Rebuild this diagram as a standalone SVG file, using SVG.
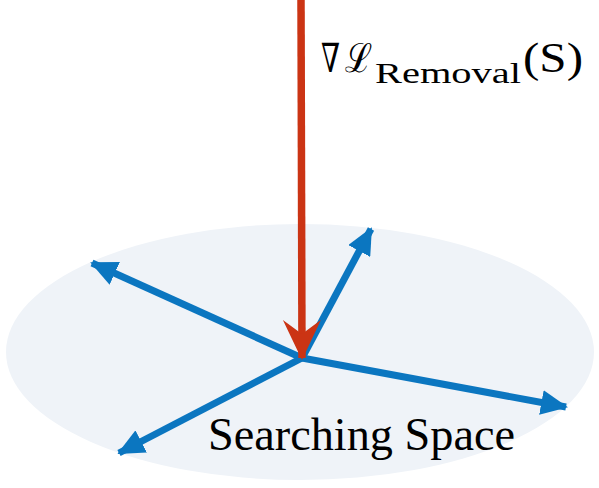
<svg xmlns="http://www.w3.org/2000/svg" width="599" height="488" viewBox="0 0 599 488">
<style>
.blue{stroke:#0B76C0;stroke-width:7;fill:none;marker-end:url(#bh)}
.red{stroke:#CB3414;stroke-width:7.5;fill:none;marker-end:url(#rh)}
.lbl{font-family:"Liberation Serif","DejaVu Serif",serif;fill:#000}
</style>
<defs>
<marker id="bh" markerUnits="userSpaceOnUse" viewBox="0 0 27 25" refX="25" refY="12.5" markerWidth="27" markerHeight="25" orient="auto">
<path d="M0,0 L27,12.5 L0,25 Z" fill="#0B76C0"/>
</marker>
<marker id="rh" markerUnits="userSpaceOnUse" viewBox="0 0 40 40" refX="38" refY="20" markerWidth="40" markerHeight="40" orient="auto">
<path d="M0,1 L40,20 L0,39 L14,20 Z" fill="#CB3414"/>
</marker>
</defs>
<g id="space">
<ellipse cx="300" cy="352" rx="294" ry="128" fill="#EFF3F8"/>
<text class="lbl" x="208" y="450" font-size="46" textLength="307" lengthAdjust="spacingAndGlyphs">Searching Space</text>
</g>
<g id="connectors">
<line class="blue" x1="302" y1="358" x2="371" y2="229"/>
<line class="blue" x1="302" y1="358" x2="92" y2="263"/>
<line class="blue" x1="302" y1="358" x2="566" y2="407"/>
<line class="blue" x1="302" y1="358" x2="119" y2="453"/>
<line class="red" x1="301" y1="0" x2="302" y2="358"/>
</g>
<g id="gradient-label">
<text class="lbl" font-size="40">
<tspan x="321" y="72" textLength="19" lengthAdjust="spacingAndGlyphs">∇</tspan><tspan x="345" y="72" textLength="27" lengthAdjust="spacingAndGlyphs">ℒ</tspan><tspan x="375" y="83" font-size="29" textLength="146" lengthAdjust="spacingAndGlyphs">Removal</tspan><tspan x="523" y="72" font-size="42" textLength="60" lengthAdjust="spacingAndGlyphs">(S)</tspan>
</text>
</g>
</svg>
